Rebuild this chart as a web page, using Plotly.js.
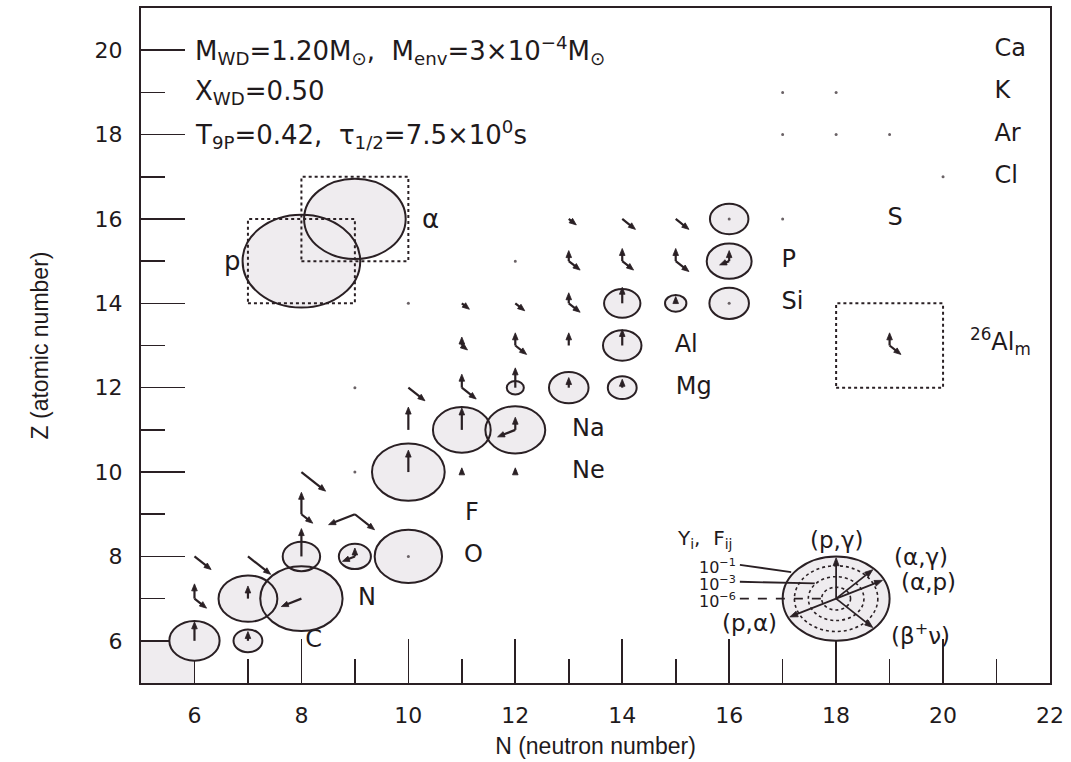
<!DOCTYPE html>
<html><head><meta charset="utf-8">
<script src="https://cdn.plot.ly/plotly-3.0.1.min.js"></script>
<style>html,body{margin:0;padding:0;background:#fff}#chart{width:1071px;height:762px}</style>
</head><body><div id="chart"></div>
<script>
// ---- abundance circles (N, Z, radius) ----
const nucN = [6,7,7,8,8,9,10,10,11,12,12,13,14,14,14,15,16,16,16];
const nucZ = [6,6,7,7,8,8,8,10,11,11,12,12,12,13,14,14,14,15,16];
const nucR = [0.47,0.27,0.55,0.77,0.35,0.30,0.63,0.68,0.54,0.56,0.16,0.37,0.27,0.36,0.34,0.20,0.37,0.42,0.36];

// ---- light particles (p, alpha) ----
const lightLabel = ['p','α'];
const lightN = [8, 9];
const lightZ = [15, 16];
const lightR = [1.10, 0.95];

// ---- 26Al isomer ----
const isoN = [19];
const isoZ = [13];

// ---- reaction flows: origin nucleus, reaction type, relative length ----
const flowN = [6,7,6,6,7,8,6,7,8,9,9,8,8,9,9,8,10,11,12,10,11,12,12,10,11,11,12,13,14,11,11,12,12,13,14,11,12,13,13,14,15,13,13,14,14,15,15,16,16,13,14,15,19,19];
const flowZ = [6,6,7,7,7,7,8,8,8,8,8,9,9,9,9,10,10,10,10,11,11,11,11,12,12,12,12,12,12,13,13,13,13,13,13,14,14,14,14,14,14,15,15,15,15,15,15,15,15,16,16,16,13,13];
const flowType = ['pg','pg','pg','b','pg','pa','b','b','pg','pg','pa','pg','b','pa','b','b','pg','pg','pg','pg','pg','pg','pa','b','pg','b','pg','pg','pg','pg','b','pg','b','pg','pg','b','b','pg','b','pg','pg','pg','b','pg','b','pg','b','pg','pa','b','b','b','pg','b'];
const flowLen = [0.45,0.22,0.35,0.32,0.30,0.42,0.44,0.60,0.66,0.20,0.26,0.52,0.30,0.55,0.52,0.64,0.52,0.10,0.10,0.54,0.52,0.30,0.37,0.44,0.32,0.38,0.47,0.24,0.20,0.20,0.15,0.30,0.30,0.30,0.38,0.20,0.25,0.25,0.30,0.38,0.16,0.25,0.30,0.30,0.30,0.30,0.35,0.25,0.20,0.20,0.35,0.35,0.30,0.30];

// ---- tiny abundance dots ----
const dotN = [10,16,16,17,9,9,10,12,17,18,19,17,18,20];
const dotZ = [8,14,16,16,10,12,14,15,18,18,18,19,19,17];

// ---- element labels ----
const elemLabel = ['C','N','O','F','Ne','Na','Mg','Al','Si','P','S','Cl','Ar','K','Ca'];
const elemZ = [6,7,8,9,10,11,12,13,14,15,16,17,18,19,20];
const elemN = [8.07,9.06,11.04,11.06,13.06,13.06,15.0,14.98,16.98,16.98,18.96,20.96,20.96,20.96,20.96];

// ---- key ----
const keyTypes = ['pg','ag','ap','b','pa'];
const keyLabels = ['(p,γ)','(α,γ)','(α,p)','(β<sup>+</sup>ν)','(p,α)'];
const keyLevels = ['10<sup>−1</sup>','10<sup>−3</sup>','10<sup>−6</sup>'];

const xTickVals = [6,8,10,12,14,16,18,20,22];
const yTickVals = [6,8,10,12,14,16,18,20];

const W = 1071, H = 762, M = {l:141, r:21, t:8, b:79};
const XR = [5,22], YR = [5,21];
const PXX = (W-M.l-M.r)/(XR[1]-XR[0]);   // px per data unit, x
const PXY = (H-M.t-M.b)/(YR[1]-YR[0]);   // px per data unit, y

const LINE = '#2a2024';
const FILL = '#efecef';
const TXT = '#1f1a1c';
const S5 = Math.sqrt(5);
const DIR = {pg:[0,1], b:[Math.SQRT1_2,-Math.SQRT1_2], pa:[-2/S5,-1/S5], ag:[Math.SQRT1_2,Math.SQRT1_2], ap:[2/S5,1/S5]};

const shapes = [];
const annotations = [];

// shaded corner
shapes.push({type:'rect',xref:'x',yref:'y',x0:5,x1:6,y0:5,y1:6,fillcolor:FILL,line:{width:0},layer:'below'});

function circ(cx,cy,r,fill,line,dash,w){
  return {type:'circle',xref:'x',yref:'y',x0:cx-r,x1:cx+r,y0:cy-r,y1:cy+r,
    fillcolor:fill,line:{color:line,width:w,dash:dash||'solid'},layer:'above'};
}
const KC = [18,7];
// fills first
for(let i=0;i<nucN.length;i++) shapes.push(circ(nucN[i],nucZ[i],nucR[i],FILL,'rgba(0,0,0,0)',null,0));
for(let i=0;i<lightN.length;i++) shapes.push(circ(lightN[i],lightZ[i],lightR[i],FILL,'rgba(0,0,0,0)',null,0));
shapes.push(circ(KC[0],KC[1],1.0,FILL,'rgba(0,0,0,0)',null,0));
// outlines
for(let i=0;i<nucN.length;i++) shapes.push(circ(nucN[i],nucZ[i],nucR[i],'rgba(0,0,0,0)',LINE,null,2));
for(let i=0;i<lightN.length;i++) shapes.push(circ(lightN[i],lightZ[i],lightR[i],'rgba(0,0,0,0)',LINE,null,2));
shapes.push(circ(KC[0],KC[1],1.0,'rgba(0,0,0,0)',LINE,null,2));
[0.78,0.52,0.27].forEach(r=>shapes.push(circ(KC[0],KC[1],r,'rgba(0,0,0,0)',LINE,'dot',1.6)));

// dotted reference boxes
const boxN = lightN.concat(isoN), boxZ = lightZ.concat(isoZ);
for(let i=0;i<boxN.length;i++){
  shapes.push({type:'rect',xref:'x',yref:'y',x0:boxN[i]-1,x1:boxN[i]+1,y0:boxZ[i]-1,y1:boxZ[i]+1,
    fillcolor:'rgba(0,0,0,0)',line:{color:LINE,width:2,dash:'dot'},layer:'above'});
}

// arrows: line shape + small filled head
function addArrow(x0,y0,x1,y1,w,h,hw){
  const dx=(x1-x0)*PXX, dy=(y1-y0)*PXY, L=Math.hypot(dx,dy);
  const ux=dx/L, uy=dy/L;
  const cut = Math.min(h*0.6, L*0.5);
  shapes.push({type:'line',xref:'x',yref:'y',x0:x0,y0:y0,x1:x1-cut*ux/PXX,y1:y1-cut*uy/PXY,
    line:{color:LINE,width:w},layer:'above'});
  const pts=[[0,0],[-h*ux-uy*hw,-h*uy+ux*hw],[-h*ux+uy*hw,-h*uy-ux*hw]];
  const d = 'M'+pts.map(p=>(x1+p[0]/PXX).toFixed(4)+','+(y1+p[1]/PXY).toFixed(4)).join(' L')+' Z';
  shapes.push({type:'path',xref:'x',yref:'y',path:d,fillcolor:LINE,line:{color:LINE,width:0.8},layer:'above'});
}
for(let i=0;i<flowN.length;i++){
  const d = DIR[flowType[i]], L = flowLen[i];
  addArrow(flowN[i],flowZ[i],flowN[i]+L*d[0],flowZ[i]+L*d[1],2.2,7,2.8);
}
keyTypes.forEach(t=>{const d=DIR[t]; addArrow(KC[0],KC[1],KC[0]+0.97*d[0],KC[1]+0.97*d[1],1.8,8,3);});

// dots
for(let i=0;i<dotN.length;i++){
  shapes.push({type:'circle',xref:'x',yref:'y',xsizemode:'pixel',ysizemode:'pixel',xanchor:dotN[i],yanchor:dotZ[i],
    x0:-1.5,x1:1.5,y0:-1.5,y1:1.5,fillcolor:'#6a6266',line:{width:0},layer:'above'});
}

// key guide lines
const guideY = [7.80,7.40,7.00];
const guideEnd = [[17.16,7.63],[17.60,7.36],[17.78,7.00]];
for(let i=0;i<3;i++){
  shapes.push({type:'line',xref:'x',yref:'y',x0:16.2,y0:guideY[i],x1:guideEnd[i][0],y1:guideEnd[i][1],
    line:{color:LINE,width:1.8,dash:i===2?'dash':'solid'},layer:'above'});
  annotations.push({x:16.16,y:guideY[i]-0.04,xref:'x',yref:'y',text:keyLevels[i],showarrow:false,xanchor:'right',yanchor:'middle',
    font:{family:'DejaVu Sans',size:16,color:TXT}});
}
annotations.push({x:14.98,y:8.42,xref:'x',yref:'y',text:'Y<sub>i</sub>,  F<sub>ij</sub>',showarrow:false,xanchor:'left',
  font:{family:'DejaVu Sans',size:20,color:TXT}});
const keyOff = [[0,1.38],[1.58,0.98],[1.72,0.40],[1.58,-0.84],[-1.62,-0.58]];
keyLabels.forEach((t,i)=>annotations.push({x:KC[0]+keyOff[i][0],y:KC[1]+keyOff[i][1],xref:'x',yref:'y',text:t,showarrow:false,
  font:{family:'DejaVu Sans',size:23,color:TXT}}));

// light particle labels
annotations.push({x:6.9,y:15,xref:'x',yref:'y',text:lightLabel[0],showarrow:false,xanchor:'right',font:{family:'DejaVu Sans',size:26,color:TXT}});
annotations.push({x:10.22,y:16,xref:'x',yref:'y',text:lightLabel[1],showarrow:false,xanchor:'left',font:{family:'DejaVu Sans',size:26,color:TXT}});
annotations.push({x:20.46,y:13.1,xref:'x',yref:'y',text:'<sup>26</sup>Al<sub>m</sub>',showarrow:false,xanchor:'left',font:{family:'DejaVu Sans',size:24,color:TXT}});

// model parameters
const paramText = ['M<sub>WD</sub>=1.20M<sub>⊙</sub>,&nbsp; M<sub>env</sub>=3×10<sup>−4</sup>M<sub>⊙</sub>',
  'X<sub>WD</sub>=0.50',
  'T<sub>9P</sub>=0.42,&nbsp; τ<sub>1/2</sub>=7.5×10<sup>0</sup>s'];
const paramZ = [20,19,18];
paramText.forEach((t,i)=>annotations.push({x:5.97,y:paramZ[i],xref:'x',yref:'y',text:t,showarrow:false,xanchor:'left',
  font:{family:'DejaVu Sans',size:26,color:TXT}}));

const traces = [
  {type:'scatter',mode:'text',x:elemN,y:elemZ,text:elemLabel,textposition:'middle right',
   textfont:{family:'DejaVu Sans',size:24,color:TXT},hoverinfo:'skip',showlegend:false,cliponaxis:false}
];

const axisCommon = {showgrid:false,zeroline:false,showline:true,mirror:true,linecolor:LINE,linewidth:2,
  ticks:'inside',ticklen:44,tickwidth:1.6,tickcolor:LINE,
  minor:{dtick:1,tick0:0,ticks:'inside',ticklen:24,tickwidth:1.6,tickcolor:LINE},
  tickfont:{family:'DejaVu Sans',size:22,color:TXT}};

const layout = {
  width:W,height:H,margin:M,
  paper_bgcolor:'#fff',plot_bgcolor:'#fff',showlegend:false,
  xaxis:Object.assign({},axisCommon,{range:XR,tickvals:xTickVals,ticklabelstandoff:12,
    title:{text:'N (neutron number)',font:{family:'Liberation Sans',size:23,color:TXT},standoff:10}}),
  yaxis:Object.assign({},axisCommon,{range:YR,tickvals:yTickVals,ticklabelstandoff:12,
    title:{text:'Z (atomic number)',font:{family:'Liberation Sans',size:23,color:TXT},standoff:40}}),
  shapes:shapes,annotations:annotations
};
Plotly.newPlot('chart',traces,layout,{displayModeBar:false,staticPlot:true});
</script></body></html>
